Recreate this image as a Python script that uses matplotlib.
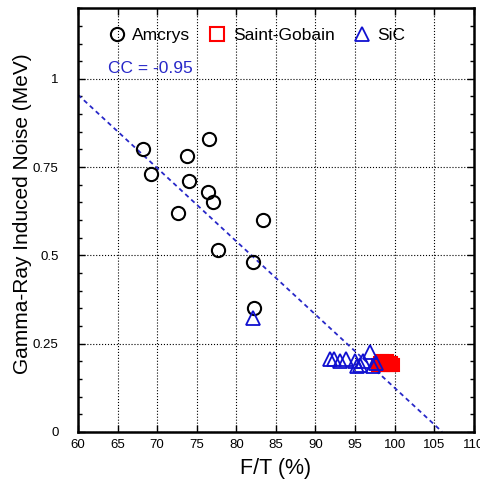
import matplotlib
matplotlib.use("Agg")
import matplotlib.pyplot as plt
from matplotlib.ticker import MultipleLocator, FixedLocator
from matplotlib.lines import Line2D

plt.rcParams['font.family'] = ['Liberation Sans', 'DejaVu Sans']

# data
amcrys_x = [68.2, 69.2, 73.8, 74.0, 76.5, 76.4, 77.0, 72.6, 77.7, 83.4, 82.1, 82.3]
amcrys_y = [0.80, 0.73, 0.78, 0.71, 0.83, 0.68, 0.65, 0.62, 0.515, 0.60, 0.48, 0.35]

sic_x = [82.1, 91.8, 92.4, 93.1, 93.9, 95.0, 95.2, 95.6, 96.0, 96.9, 97.3, 97.6]
sic_y = [0.323, 0.205, 0.205, 0.20, 0.205, 0.20, 0.185, 0.19, 0.20, 0.227, 0.185, 0.195]

sg_x = [97.9, 98.2, 98.5, 98.8, 99.0, 99.3, 99.5, 99.8, 98.4, 99.1, 99.6]
sg_y = [0.19, 0.195, 0.19, 0.195, 0.19, 0.195, 0.19, 0.19, 0.20, 0.20, 0.195]

fit_x = [60, 106]
fit_y = [0.955, 0.0]

fig = plt.figure(figsize=(4.81, 4.83), dpi=100)
ax = fig.add_axes([0.162, 0.106, 0.823, 0.877])

ax.plot(fit_x, fit_y, '--', color='#2828c8', lw=1.3, dashes=(2.5, 2), zorder=2)
ax.plot(amcrys_x, amcrys_y, 'o', mfc='none', mec='black', ms=9.5, mew=1.5, ls='none', zorder=3)
ax.plot(sg_x, sg_y, 's', mfc='none', mec='red', ms=9, mew=1.5, ls='none', zorder=3)
ax.plot(sic_x, sic_y, '^', mfc='none', mec='#1010d0', ms=9.5, mew=1.3, ls='none', zorder=4)

ax.set_xlim(60, 110)
ax.set_ylim(0, 1.2)
ax.xaxis.set_major_locator(MultipleLocator(5))
ax.yaxis.set_major_locator(FixedLocator([0, 0.25, 0.5, 0.75, 1]))
ax.yaxis.set_minor_locator(MultipleLocator(0.05))
ax.set_yticklabels(['0', '0.25', '0.5', '0.75', '1'])
ax.tick_params(which='both', direction='in', top=True, right=True, labelsize=9.5)
ax.tick_params(axis='y', pad=14)
ax.tick_params(axis='x', pad=5)
ax.tick_params(which='major', length=5, width=1)
ax.tick_params(which='minor', length=3, width=1)
ax.grid(True, which='major', color='black', ls=':', lw=0.8)
for s in ax.spines.values():
    s.set_linewidth(1.8)

ax.set_xlabel('F/T (%)', fontsize=15.5, labelpad=5)
ax.set_ylabel('Gamma-Ray Induced Noise (MeV)', fontsize=15)
ax.yaxis.set_label_coords(-0.116, 0.515)

handles = [
    Line2D([], [], marker='o', mfc='none', mec='black', ms=9.5, mew=1.5, ls='none'),
    Line2D([], [], marker='s', mfc='none', mec='red', ms=10, mew=1.5, ls='none'),
    Line2D([], [], marker='^', mfc='none', mec='#1010d0', ms=10, mew=1.3, ls='none'),
]
ax.legend(handles, ['Amcrys', 'Saint-Gobain', 'SiC'], loc='upper left',
          bbox_to_anchor=(0.032, 0.99), ncol=3, frameon=False, fontsize=12.5,
          handletextpad=0.3, columnspacing=0.95, handlelength=1.2)
ax.text(63.8, 1.03, 'CC = -0.95', color='#2828c8', fontsize=12.5, va='center')

fig.savefig('out.png', dpi=100)
